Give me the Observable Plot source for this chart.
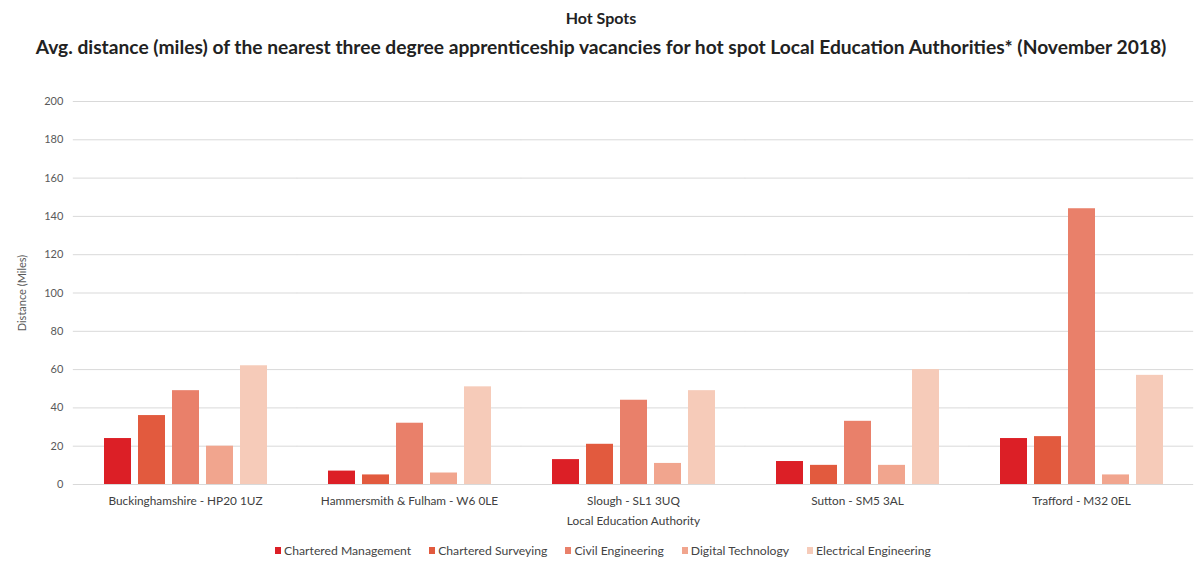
<!DOCTYPE html>
<html>
<head>
<meta charset="utf-8">
<script src="https://cdn.jsdelivr.net/npm/d3@7"></script>
<script src="https://cdn.jsdelivr.net/npm/@observablehq/plot@0.6"></script>
<style>
  html, body { margin: 0; padding: 0; background: #fff; }
  body { width: 1202px; height: 562px; overflow: hidden; font-family: Lato, "Open Sans", sans-serif; }
  #titles { height: 80px; text-align: center; color: #222; }
  #t1 { font-weight: bold; font-size: 16px; padding-top: 8px; line-height: 20px; }
  #t2 { font-weight: bold; font-size: 19.2px; margin-top: 7px; line-height: 23px; }
  #chart svg { display: block; }
  #legend { display: flex; justify-content: center; gap: 18px; font-size: 12.2px; color: #444; margin-top: 6px; height: 24px; align-items: center; padding-left: 4px; }
  #legend .item { display: flex; align-items: center; gap: 3px; }
  #legend .sw { width: 6px; height: 7px; display: inline-block; }
</style>
</head>
<body>
<div id="titles">
  <div id="t1">Hot Spots</div>
  <div id="t2">Avg. distance (miles) of the nearest three degree apprenticeship vacancies for hot spot Local Education Authorities* (November 2018)</div>
</div>
<div id="chart"></div>
<div id="legend"></div>
<script>
const authorities = [
  "Buckinghamshire - HP20 1UZ",
  "Hammersmith & Fulham - W6 0LE",
  "Slough - SL1 3UQ",
  "Sutton - SM5 3AL",
  "Trafford - M32 0EL"
];
const disciplines = [
  "Chartered Management",
  "Chartered Surveying",
  "Civil Engineering",
  "Digital Technology",
  "Electrical Engineering"
];
const charteredManagement = [24, 7, 13, 12, 24];
const charteredSurveying = [36, 5, 21, 10, 25];
const civilEngineering = [49, 32, 44, 33, 144];
const digitalTechnology = [20, 6, 11, 10, 5];
const electricalEngineering = [62, 51, 49, 60, 57];
const colors = ["#dc1f26", "#e25a3e", "#e9806a", "#f1a58e", "#f6cbb9"];
const yTicks = [0, 20, 40, 60, 80, 100, 120, 140, 160, 180, 200];

const series = [charteredManagement, charteredSurveying, civilEngineering, digitalTechnology, electricalEngineering];
const data = authorities.flatMap((a, i) =>
  disciplines.map((d, j) => ({authority: a, discipline: d, value: series[j][i]}))
);

const W = 1202, H = 452, ML = 72, MR = 8, MT = 21, MB = 48;
const PI = 0.26, PO = 0.13;
const step = (W - ML - MR) / (authorities.length - PI + 2 * PO);
const halfGap = step * PI / 2;

const chart = Plot.plot({
  width: W, height: H,
  marginLeft: ML, marginRight: MR, marginTop: MT, marginBottom: MB,
  style: {fontFamily: "Lato, 'Open Sans', sans-serif", background: "#fff"},
  fx: {domain: authorities, paddingInner: PI, paddingOuter: PO},
  x: {domain: disciplines, paddingInner: 0.22, paddingOuter: 0, axis: null},
  y: {domain: [0, 200]},
  color: {domain: disciplines, range: colors},
  marks: [
    Plot.ruleY(yTicks, {stroke: "#d9d9d9", strokeWidth: 1, insetLeft: -halfGap, insetRight: -halfGap}),
    Plot.barY(data, {fx: "authority", x: "discipline", y: "value", fill: "discipline"}),
    Plot.axisY(yTicks, {tickSize: 0, tickPadding: halfGap + 10, fontSize: 11, color: "#595959",
      label: "Distance (Miles)", labelAnchor: "center", labelArrow: "none", labelOffset: 84}),
    Plot.axisFx({anchor: "bottom", tickSize: 0, tickPadding: 12, fontSize: 11.8, color: "#404040",
      label: "Local Education Authority", labelAnchor: "center", labelArrow: "none", labelOffset: 40})
  ]
});
document.getElementById("chart").appendChild(chart);

const lg = document.getElementById("legend");
disciplines.forEach((d, i) => {
  const it = document.createElement("div");
  it.className = "item";
  const sw = document.createElement("span");
  sw.className = "sw";
  sw.style.background = colors[i];
  const tx = document.createElement("span");
  tx.textContent = d;
  it.appendChild(sw); it.appendChild(tx);
  lg.appendChild(it);
});
</script>
</body>
</html>
